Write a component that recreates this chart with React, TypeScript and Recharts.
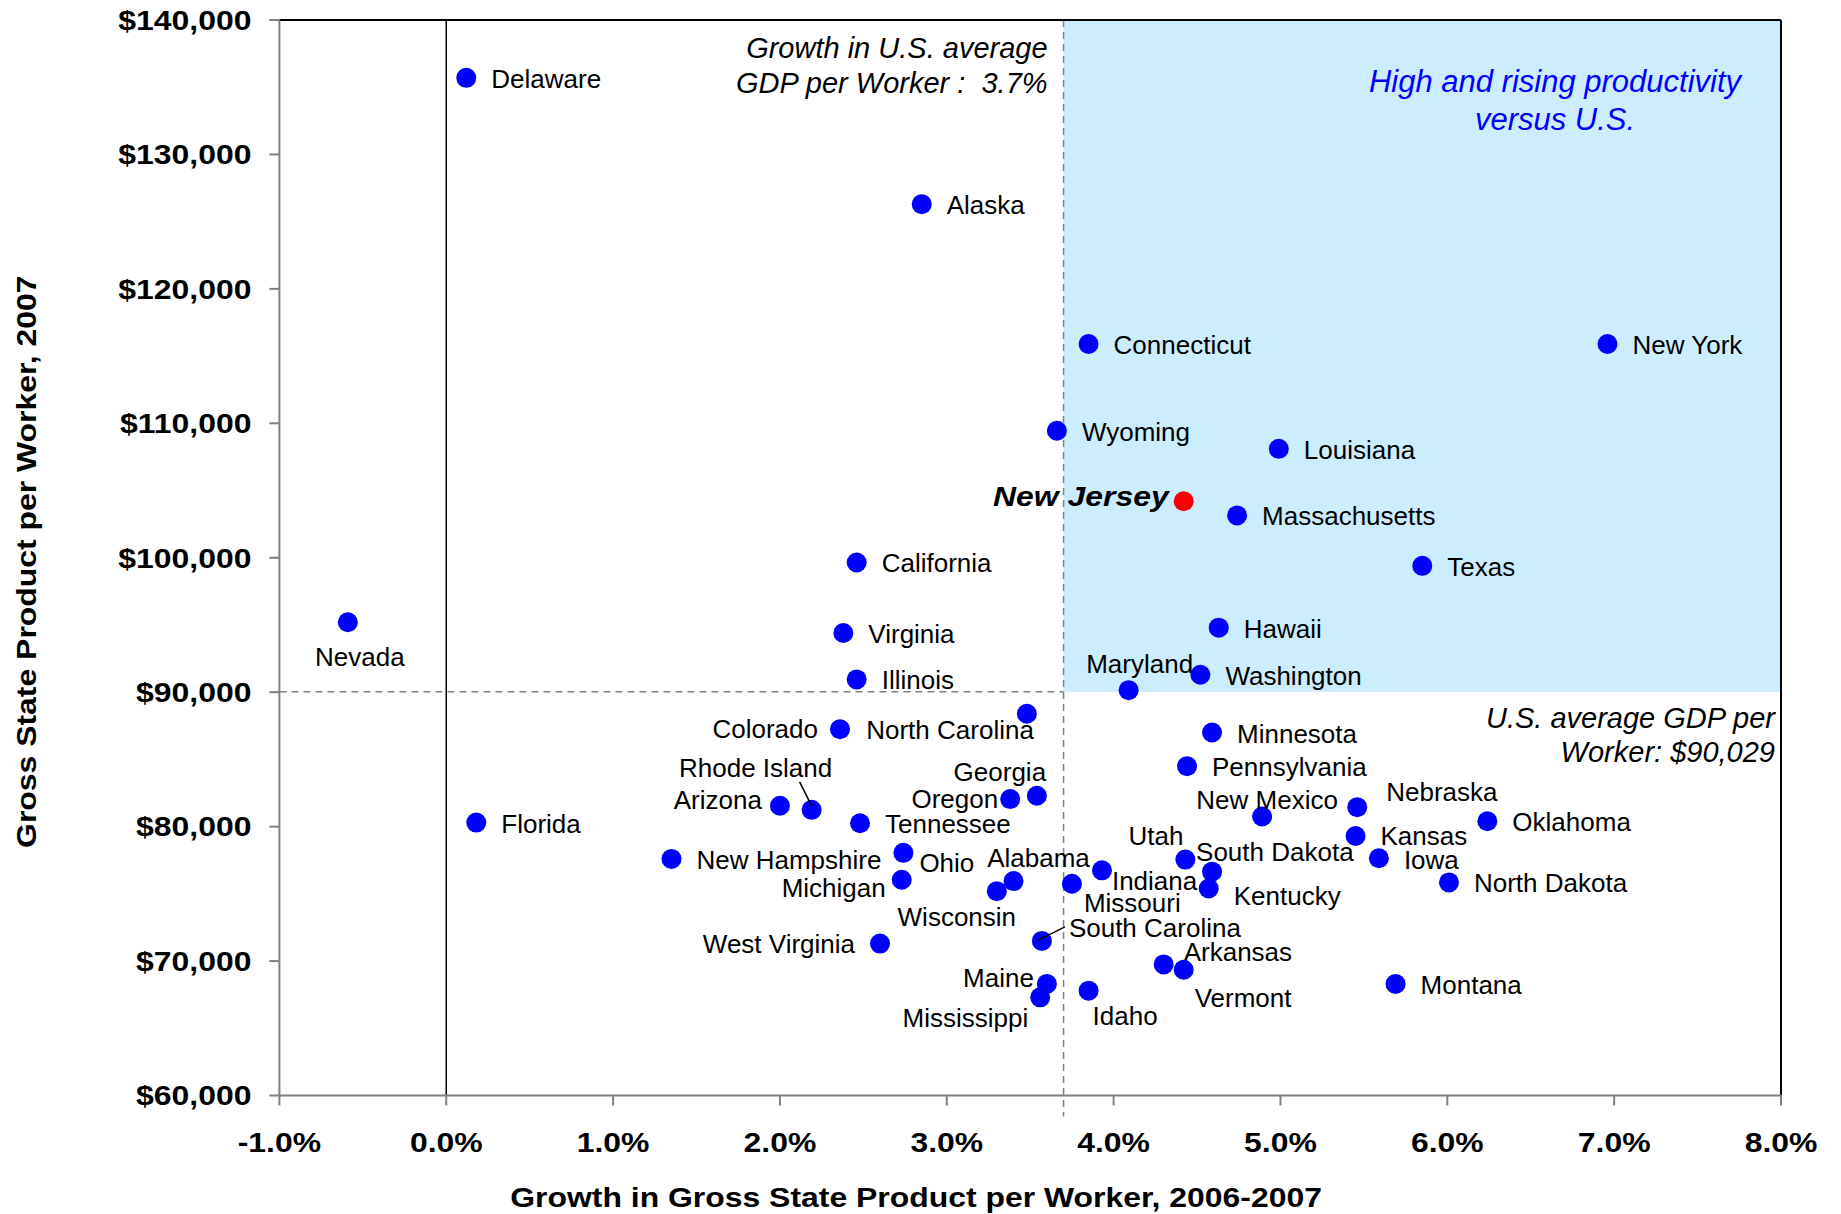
import { ScatterChart, Scatter, XAxis, YAxis, ReferenceArea, ReferenceLine } from "recharts"

// growth in gross state product per worker 2006-2007 (%) and GSP per worker 2007 ($)
const states = [
  "Delaware", "Alaska", "Connecticut", "New York", "Wyoming", "Louisiana", "New Jersey",
  "Massachusetts", "California", "Texas", "Nevada", "Virginia", "Hawaii", "Illinois",
  "Washington", "Maryland", "North Carolina", "Colorado", "Minnesota", "Pennsylvania",
  "Georgia", "Oregon", "Arizona", "Rhode Island", "Nebraska", "Oklahoma", "Florida",
  "Tennessee", "New Mexico", "Kansas", "New Hampshire", "Ohio", "Utah", "Iowa", "Michigan",
  "Alabama", "Wisconsin", "Indiana", "Missouri", "South Dakota", "Kentucky", "North Dakota",
  "South Carolina", "West Virginia", "Arkansas", "Vermont", "Maine", "Mississippi", "Idaho",
  "Montana"
]
const growth = [
  0.12, 2.85, 3.85, 6.96, 3.66, 4.99, 4.42,
  4.74, 2.46, 5.85, -0.59, 2.38, 4.63, 2.46,
  4.52, 4.09, 3.48, 2.36, 4.59, 4.44,
  3.54, 3.38, 2.0, 2.19, 5.46, 6.24, 0.18,
  2.48, 4.89, 5.45, 1.35, 2.74, 4.43, 5.59, 2.73,
  3.4, 3.3, 3.93, 3.75, 4.59, 4.57, 6.01,
  3.57, 2.6, 4.3, 4.42, 3.6, 3.56, 3.85,
  5.69
]
const gspPerWorker = [
  135700, 126300, 115900, 115900, 109450, 108100, 104200,
  103150, 99650, 99400, 95200, 94400, 94800, 90950,
  91300, 90150, 88400, 87250, 87000, 84500,
  82300, 82050, 81550, 81250, 81450, 80400, 80300,
  80250, 80750, 79300, 77600, 78050, 77550, 77650, 76050,
  75950, 75200, 76750, 75750, 76650, 75400, 75850,
  71500, 71300, 69750, 69350, 68300, 67300, 67800,
  68300
]
const highlighted = "New Jersey"
const usGrowth = 3.7
const usGspPerWorker = 90029
const xTicks = [-1, 0, 1, 2, 3, 4, 5, 6, 7, 8]
const yTicks = [60000, 70000, 80000, 90000, 100000, 110000, 120000, 130000, 140000]

const points = states.map((name, i) => ({ name, x: growth[i], y: gspPerWorker[i] }))
const otherStates = points.filter(p => p.name !== highlighted)
const highlightPoints = points.filter(p => p.name === highlighted)

const FONT = "'Liberation Sans', Arial, sans-serif"
const WIDE = 1.14 // the bold text in the original is drawn a bit stretched

// where each label sits relative to its dot: [anchor, dx, dy, leader?]
type Place = [string, number, number, number[]?]
const RIGHT: Place = ["start", 25, 1]
const labelPlace: Record<string, Place> = {
  "Nevada": ["middle", 12, 35],
  "Maryland": ["middle", 11, -26],
  "North Carolina": ["end", 7, 16],
  "Colorado": ["end", -22, 0],
  "Georgia": ["middle", -37, -24],
  "Oregon": ["end", -12, 0],
  "Arizona": ["end", -18, -6],
  "Rhode Island": ["middle", -56, -42, [-12, -28, 0, -4]],
  "Nebraska": ["start", 29, -15],
  "New Mexico": ["middle", 5, -17],
  "Kansas": ["start", 25, 0],
  "Iowa": ["start", 25, 2],
  "Ohio": ["start", 16, 10],
  "Utah": ["end", -2, -24],
  "Michigan": ["end", -16, 8],
  "Alabama": ["middle", 25, -23],
  "Wisconsin": ["middle", -40, 26],
  "Indiana": ["start", 10, 11],
  "Missouri": ["start", 12, 19],
  "South Dakota": ["start", -16, -20],
  "Kentucky": ["start", 25, 8],
  "South Carolina": ["start", 27, -13, [-5, 0, 23, -14]],
  "West Virginia": ["end", -25, 0],
  "Arkansas": ["start", 20, -12],
  "Vermont": ["start", 11, 28],
  "Maine": ["end", -13, -6],
  "Mississippi": ["end", -12, 21],
  "Idaho": ["start", 4, 25],
  "New Jersey": ["end", -15, -5],
}

const WideText = ({ x, y, anchor, size, italic, children }: any) => (
  <g transform={`translate(${x} ${y}) scale(${WIDE} 1)`}>
    <text x={0} y={0} textAnchor={anchor} dominantBaseline="central" fontFamily={FONT}
      fontSize={size} fontWeight={700} fontStyle={italic ? "italic" : "normal"} fill="#000">
      {children}
    </text>
  </g>
)

const makeShape = (color: string, bold: boolean) => (props: any) => {
  const { cx, cy, payload } = props
  const [anchor, dx, dy, leader] = labelPlace[payload.name] ?? RIGHT
  return (
    <g>
      <circle cx={cx} cy={cy} r={10} fill={color} />
      {leader && (
        <line x1={cx + leader[0]} y1={cy + leader[1]} x2={cx + leader[2]} y2={cy + leader[3]}
          stroke="#000" strokeWidth={1.5} />
      )}
      {bold ? (
        <WideText x={cx + dx} y={cy + dy} anchor={anchor} size={28} italic>{payload.name}</WideText>
      ) : (
        <text x={cx + dx} y={cy + dy} textAnchor={anchor as any} dominantBaseline="central"
          fontFamily={FONT} fontSize={26} fill="#000">
          {payload.name}
        </text>
      )}
    </g>
  )
}

const quadrantNotes = (props: any) => {
  const { x, y, width, height } = props.viewBox
  const right = x + width
  const bottom = y + height
  const italic = { fontFamily: FONT, fontStyle: "italic" as const, dominantBaseline: "central" as const }
  return (
    <g>
      <text {...italic} x={x - 16} y={y + 28} textAnchor="end" fontSize={29} fill="#000">Growth in U.S. average</text>
      <text {...italic} x={x - 16} y={y + 63} textAnchor="end" fontSize={29} fill="#000" xmlSpace="preserve">GDP per Worker :  3.7%</text>
      <text {...italic} x={right - 226} y={y + 61} textAnchor="middle" fontSize={31} fill="#0000FF">High and rising productivity</text>
      <text {...italic} x={right - 226} y={y + 99} textAnchor="middle" fontSize={31} fill="#0000FF">versus U.S.</text>
      <text {...italic} x={right - 6} y={bottom + 26} textAnchor="end" fontSize={29} fill="#000">U.S. average GDP per</text>
      <text {...italic} x={right - 6} y={bottom + 60} textAnchor="end" fontSize={29} fill="#000">Worker: $90,029</text>
    </g>
  )
}

const xTitle = (props: any) => {
  const { x, y, width } = props.viewBox
  return (
    <WideText x={x + width * 0.424} y={y + 102} anchor="middle" size={28}>
      Growth in Gross State Product per Worker, 2006-2007
    </WideText>
  )
}

const yTitle = (props: any) => {
  const { x, y, height } = props.viewBox
  const cx = x + 18
  const cy = y + height / 2 + 4
  return (
    <g transform={`rotate(-90 ${cx} ${cy})`}>
      <WideText x={cx} y={cy} anchor="middle" size={28}>Gross State Product per Worker, 2007</WideText>
    </g>
  )
}

const XTick = (props: any) => {
  const { x, y, payload } = props
  return <WideText x={x} y={y + 11} anchor="middle" size={28}>{payload.value.toFixed(1) + "%"}</WideText>
}

const YTick = (props: any) => {
  const { x, y, payload } = props
  return <WideText x={x} y={y} anchor="end" size={28}>{"$" + payload.value.toLocaleString("en-US")}</WideText>
}

export default function App() {
  return (
    <div style={{ width: 1833, height: 1214, marginTop: -8, background: "#fff" }}>
      <ScatterChart width={1833} height={1214} margin={{ top: 20, right: 60, bottom: 0, left: 0 }}>
        <XAxis type="number" dataKey="x" domain={[-1, 8]} ticks={xTicks} allowDataOverflow height={118.5}
          axisLine={{ stroke: "#808080", strokeWidth: 2 }} tickLine={{ stroke: "#808080", strokeWidth: 2 }}
          tickSize={10} tickMargin={26} tick={<XTick />} label={xTitle} />
        <YAxis type="number" dataKey="y" domain={[60000, 140000]} ticks={yTicks} allowDataOverflow width={271.4}
          axisLine={{ stroke: "#808080", strokeWidth: 2 }} tickLine={{ stroke: "#808080", strokeWidth: 2 }}
          tickSize={10} tickMargin={18} tick={<YTick />} label={yTitle} />
        <ReferenceArea x1={usGrowth} x2={8} y1={usGspPerWorker} y2={140000} fill="#CCECFF" fillOpacity={1}
          stroke="none" label={quadrantNotes} />
        <ReferenceLine segment={[{ x: -1, y: usGspPerWorker }, { x: usGrowth, y: usGspPerWorker }]}
          stroke="#808080" strokeWidth={1.5} strokeDasharray="7 5" />
        <ReferenceLine segment={[{ x: usGrowth, y: 140000 }, { x: usGrowth, y: 58440 }]} ifOverflow="visible"
          stroke="#808080" strokeWidth={1.5} strokeDasharray="7 5" />
        <ReferenceLine x={0} stroke="#000" strokeWidth={1.5} />
        <ReferenceLine y={140000} stroke="#000" strokeWidth={2} />
        <ReferenceLine x={8} stroke="#000" strokeWidth={2} />
        <Scatter data={otherStates} fill="#0000FF" shape={makeShape("#0000FF", false)} isAnimationActive={false} />
        <Scatter data={highlightPoints} fill="#FF0000" shape={makeShape("#FF0000", true)} isAnimationActive={false} />
      </ScatterChart>
    </div>
  )
}
